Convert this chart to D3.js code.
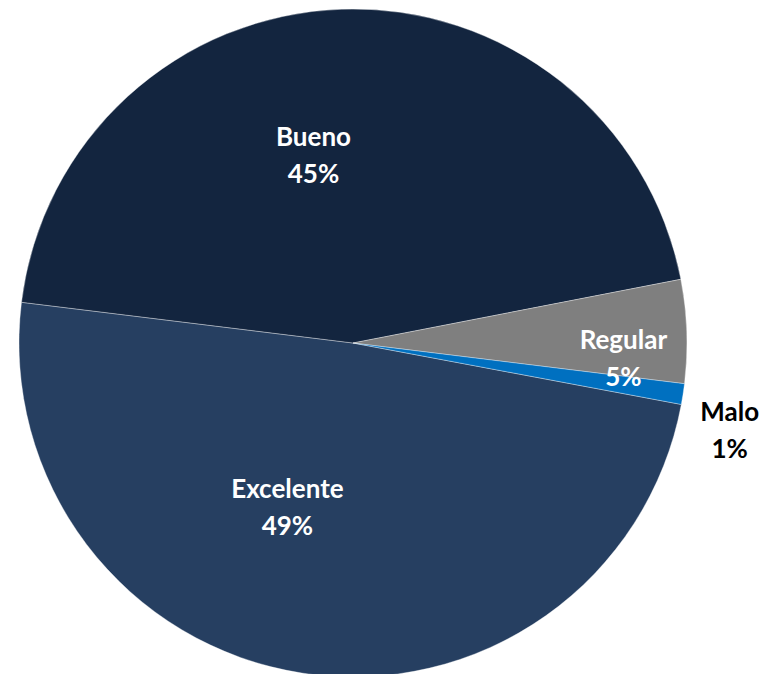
<!DOCTYPE html>
<html>
<head>
<meta charset="utf-8">
<script src="https://cdn.jsdelivr.net/npm/d3@7/dist/d3.min.js"></script>
<style>
  html, body { margin: 0; padding: 0; background: #ffffff; }
  svg { display: block; }
</style>
</head>
<body>
<svg id="chart" width="777" height="674"></svg>
<script>
// Survey rating shares (percent), clockwise from the lower right
const categories = ["Excelente", "Bueno", "Regular", "Malo"];
const values = [49, 45, 5, 1];
const colors = ["#263F61", "#13253F", "#7F7F7F", "#0070C0"];
const labelColors = ["#ffffff", "#ffffff", "#ffffff", "#000000"];

const width = 777, height = 674;
const cx = 353, cy = 343, radius = 334;
// Rotation of the first slice, in degrees clockwise from 12 o'clock
const firstSliceDeg = 100.6;

// Label placement: radius as fraction of the pie radius, plus a small nudge
const labelLayout = {
  "Excelente": { r: 0.56, dx: -37, dy: -20 },
  "Bueno":     { r: 0.56, dx: -33, dy: -1 },
  "Regular":   { r: 0.81, dx: 0,   dy: 25 },
  "Malo":      { r: 1.12, dx: 7,   dy: 30 }
};

const data = categories.map((c, i) => ({ name: c, value: values[i], color: colors[i], text: labelColors[i] }));

const svg = d3.select("#chart");
const g = svg.append("g").attr("transform", `translate(${cx},${cy})`);

const start = firstSliceDeg * Math.PI / 180;
const pie = d3.pie().sort(null).value(d => d.value)
  .startAngle(start).endAngle(start + 2 * Math.PI);
const arcs = pie(data);

const arc = d3.arc().innerRadius(0).outerRadius(radius);

g.selectAll("path.slice")
  .data(arcs)
  .join("path")
  .attr("class", "slice")
  .attr("d", arc)
  .attr("fill", d => d.data.color)
  .attr("stroke", "rgba(255,255,255,0.35)")
  .attr("stroke-width", 1);

const lineGap = 37;
const capHalf = 9;
const labels = g.selectAll("text.label")
  .data(arcs)
  .join("text")
  .attr("class", "label")
  .attr("text-anchor", "middle")
  .attr("font-family", "Lato, 'Open Sans', sans-serif")
  .attr("font-weight", "bold")
  .attr("font-size", 26)
  .attr("fill", d => d.data.text)
  .attr("transform", d => {
    const L = labelLayout[d.data.name];
    const la = d3.arc().innerRadius(radius * L.r).outerRadius(radius * L.r);
    const [x, y] = la.centroid(d);
    return `translate(${x + L.dx},${y + L.dy})`;
  });

labels.append("tspan")
  .attr("x", 0)
  .attr("y", -lineGap / 2 + capHalf)
  .text(d => d.data.name);
labels.append("tspan")
  .attr("x", 0)
  .attr("y", lineGap / 2 + capHalf)
  .text(d => d3.format(".0f")(d.data.value) + "%");
</script>
</body>
</html>
